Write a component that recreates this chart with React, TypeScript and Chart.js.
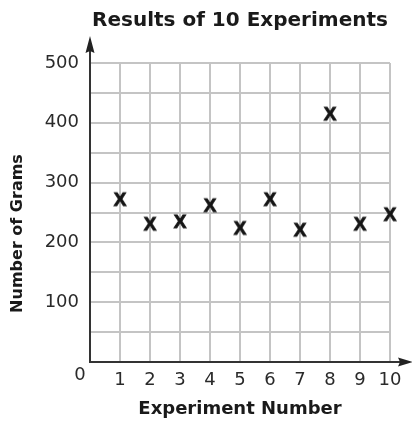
import { useEffect, useRef } from 'react';
import { Chart, registerables } from 'chart.js';

Chart.register(...registerables);

const experimentNumbers: number[] = [1, 2, 3, 4, 5, 6, 7, 8, 9, 10];
const grams: number[] = [273, 232, 236, 263, 225, 273, 222, 416, 232, 248];
const yLabelValues: number[] = [100, 200, 300, 400, 500];
const chartTitle = 'Results of 10 Experiments';
const xAxisTitle = 'Experiment Number';
const yAxisTitle = 'Number of Grams';
const originLabel = '0';

const TICK_FONT = { family: '"DejaVu Sans", sans-serif', size: 18 };
const INK = '#2a2a2a';

function makeXMarker(): HTMLCanvasElement {
  const c = document.createElement('canvas');
  c.width = 22;
  c.height = 22;
  const ctx = c.getContext('2d')!;
  ctx.fillStyle = '#151515';
  ctx.strokeStyle = '#151515';
  ctx.lineWidth = 0.9;
  ctx.font = 'bold 19px "Liberation Sans", Arial, sans-serif';
  ctx.textAlign = 'center';
  ctx.textBaseline = 'alphabetic';
  ctx.fillText('X', 11, 17.8);
  ctx.strokeText('X', 11, 17.8);
  return c;
}

const decorPlugin = {
  id: 'decor',
  afterDraw(chart: any) {
    const { ctx, chartArea } = chart;
    const { left, right, top, bottom } = chartArea;
    ctx.save();
    ctx.strokeStyle = '#333';
    ctx.fillStyle = '#222';
    ctx.lineWidth = 2;
    // y axis extension + arrow
    ctx.beginPath();
    ctx.moveTo(left, top);
    ctx.lineTo(left, top - 14);
    ctx.stroke();
    ctx.beginPath();
    ctx.moveTo(left, top - 27);
    ctx.lineTo(left + 4.5, top - 10);
    ctx.lineTo(left, top - 12);
    ctx.lineTo(left - 4.5, top - 10);
    ctx.closePath();
    ctx.fill();
    // x axis extension + arrow
    ctx.beginPath();
    ctx.moveTo(right, bottom);
    ctx.lineTo(right + 12, bottom);
    ctx.stroke();
    ctx.beginPath();
    ctx.moveTo(right + 23, bottom);
    ctx.lineTo(right + 8, bottom - 4.5);
    ctx.lineTo(right + 10, bottom);
    ctx.lineTo(right + 8, bottom + 4.5);
    ctx.closePath();
    ctx.fill();

    // origin label
    ctx.fillStyle = INK;
    ctx.font = `${TICK_FONT.size}px ${TICK_FONT.family}`;
    ctx.textAlign = 'center';
    ctx.textBaseline = 'middle';
    ctx.fillText(originLabel, left - 10, bottom + 13);

    // y axis title
    ctx.fillStyle = '#1a1a1a';
    ctx.font = 'bold 16px "DejaVu Sans", sans-serif';
    ctx.translate(18, (top + bottom) / 2 + 21);
    ctx.rotate(-Math.PI / 2);
    ctx.textAlign = 'center';
    ctx.textBaseline = 'middle';
    ctx.fillText(yAxisTitle, 0, 0);
    ctx.restore();
  },
};

export default function App() {
  const canvasRef = useRef<HTMLCanvasElement | null>(null);

  useEffect(() => {
    if (!canvasRef.current) return;
    const marker = makeXMarker();
    const chart = new Chart(canvasRef.current, {
      type: 'scatter',
      data: {
        datasets: [
          {
            data: experimentNumbers.map((x, i) => ({ x, y: grams[i] })),
            pointStyle: marker as any,
            pointRadius: 9,
            pointHoverRadius: 9,
            clip: false as any,
          },
        ],
      },
      plugins: [decorPlugin],
      options: {
        animation: false,
        responsive: false,
        events: [],
        layout: { padding: { left: 0, right: 22, top: 0, bottom: 0 } },
        plugins: {
          legend: { display: false },
          tooltip: { enabled: false },
          title: {
            display: true,
            text: chartTitle,
            fullSize: false,
            color: '#1a1a1a',
            font: { family: '"DejaVu Sans", sans-serif', size: 20, weight: 'bold' },
            padding: { top: 9, bottom: 30 },
          },
        },
        scales: {
          x: {
            type: 'linear',
            min: 0,
            max: 10,
            afterFit: (s: any) => {
              s.height = 63;
            },
            ticks: {
              stepSize: 1,
              padding: 8,
              color: INK,
              font: TICK_FONT,
              callback: (v: any) => (v === 0 ? '' : String(v)),
            },
            grid: { color: '#c4c4c4', lineWidth: 2, drawTicks: false },
            border: { display: true, color: '#333', width: 2 },
            title: {
              display: true,
              text: xAxisTitle,
              color: '#1a1a1a',
              font: { family: '"DejaVu Sans", sans-serif', size: 18, weight: 'bold' },
              padding: { top: 0, bottom: 5 },
            },
          },
          y: {
            type: 'linear',
            min: 0,
            max: 500,
            afterFit: (s: any) => {
              s.width = 90;
            },
            ticks: {
              stepSize: 50,
              padding: 11,
              color: INK,
              font: TICK_FONT,
              callback: (v: any) => (yLabelValues.includes(v) ? String(v) : ''),
            },
            grid: { color: '#c4c4c4', lineWidth: 2, drawTicks: false },
            border: { display: true, color: '#333', width: 2 },
          },
        },
      },
    });
    return () => chart.destroy();
  }, []);

  return (
    <div style={{ position: 'fixed', left: 0, top: 0, width: 412, height: 425, background: '#fff' }}>
      <canvas ref={canvasRef} width={412} height={425} style={{ display: 'block' }} />
    </div>
  );
}
